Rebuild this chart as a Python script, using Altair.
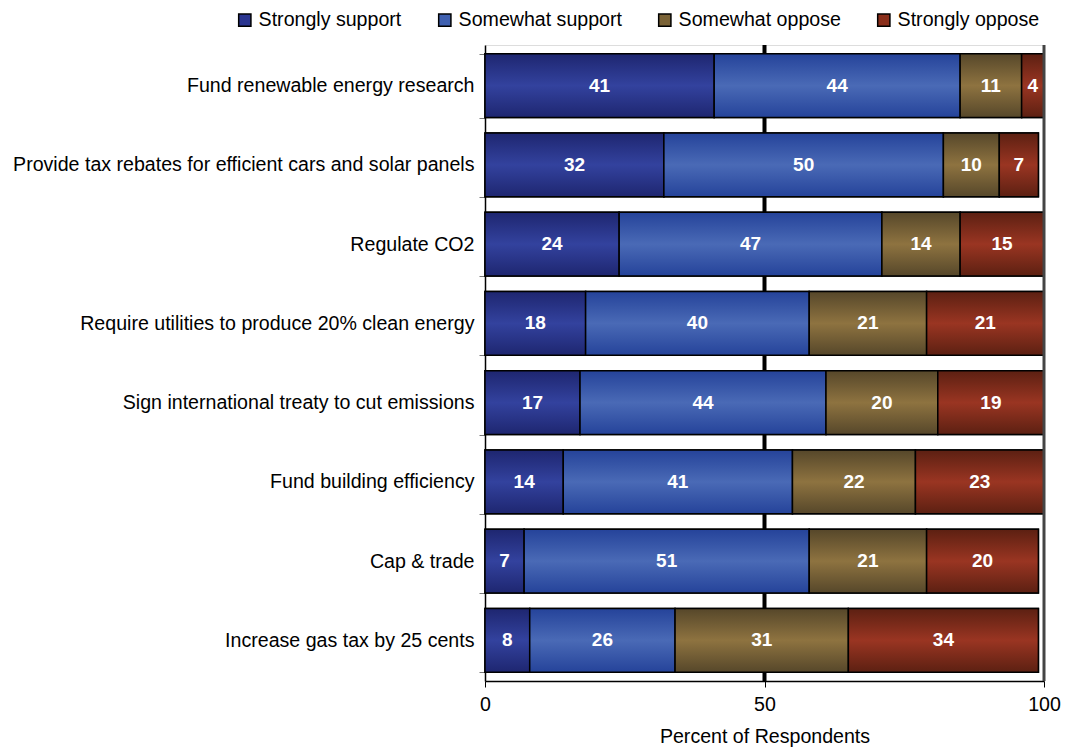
import altair as alt
import pandas as pd

policies = [
    "Fund renewable energy research",
    "Provide tax rebates for efficient cars and solar panels",
    "Regulate CO2",
    "Require utilities to produce 20% clean energy",
    "Sign international treaty to cut emissions",
    "Fund building efficiency",
    "Cap & trade",
    "Increase gas tax by 25 cents",
]
responses = ["Strongly support", "Somewhat support", "Somewhat oppose", "Strongly oppose"]
strongly_support = [41, 32, 24, 18, 17, 14, 7, 8]
somewhat_support = [44, 50, 47, 40, 44, 41, 51, 26]
somewhat_oppose = [11, 10, 14, 21, 20, 22, 21, 31]
strongly_oppose = [4, 7, 15, 21, 19, 23, 20, 34]
x_ticks = [0, 50, 100]
grid_at = [50]
border_at = [100]

flat_colors = ["#2a3590", "#3f60b0", "#7a6236", "#8a2e1a"]
gradients = [
    ("#1e2670", "#33429e"),
    ("#25439a", "#4a6ab6"),
    ("#56472a", "#8e7340"),
    ("#5c2012", "#9a3522"),
]

series = [strongly_support, somewhat_support, somewhat_oppose, strongly_oppose]
rows = []
for i, p in enumerate(policies):
    start = 0
    for j, r in enumerate(responses):
        v = series[j][i]
        rows.append({"policy": p, "response": r, "value": v,
                     "start": start, "end": start + v, "mid": start + v / 2, "order": j})
        start += v
df = pd.DataFrame(rows)

FONT = "Liberation Sans"
FS = 19.6

y_enc = alt.Y("policy:N", sort=policies,
              scale=alt.Scale(paddingInner=0.195, paddingOuter=0.11),
              axis=alt.Axis(title=None, labelFontSize=FS, labelColor="black", labelFont=FONT,
                            labelPadding=5, tickBand="extent", tickSize=6, tickColor="#777",
                            domainColor="black", domainWidth=1.5, labelLimit=700))
x_scale = alt.Scale(domain=[0, 100], nice=False)
x_enc = alt.X("start:Q", scale=x_scale,
              axis=alt.Axis(values=x_ticks, title="Percent of Respondents", titleFontSize=FS,
                            titleFontWeight="normal", titleFont=FONT, titleColor="black",
                            titlePadding=14, labelFontSize=FS, labelFont=FONT, labelColor="black",
                            labelPadding=8, labelFlush=False, tickSize=6, tickColor="black",
                            domainColor="black", domainWidth=1.5, grid=False))

base = alt.Chart(df)

grid = alt.Chart(pd.DataFrame({"g": grid_at})).mark_rule(color="black", strokeWidth=4).encode(
    x=alt.X("g:Q", scale=x_scale))
border = alt.Chart(pd.DataFrame({"g": border_at})).mark_rule(color="#444", strokeWidth=3).encode(
    x=alt.X("g:Q", scale=x_scale))

legend_layer = base.mark_bar(stroke="black", strokeWidth=1.5).encode(
    y=y_enc, x=x_enc, x2="end:Q",
    fill=alt.Fill("response:N", sort=responses,
                  scale=alt.Scale(domain=responses, range=flat_colors),
                  legend=alt.Legend(title=None, orient="none", direction="horizontal",
                                    legendX=-250, legendY=-35, labelFontSize=FS, labelFont=FONT,
                                    labelColor="black", symbolType="square", symbolSize=150,
                                    symbolStrokeColor="black", symbolStrokeWidth=1.5,
                                    columnPadding=33, labelOffset=4, labelLimit=300)),
)

grad_layers = []
for j, r in enumerate(responses):
    edge, mid = gradients[j]
    g = alt.LinearGradient(gradient="linear", x1=0, x2=0, y1=0, y2=1, stops=[
        alt.GradientStop(color=edge, offset=0),
        alt.GradientStop(color=mid, offset=0.5),
        alt.GradientStop(color=edge, offset=1),
    ])
    grad_layers.append(
        base.transform_filter(alt.datum.response == r)
        .mark_bar(fill=g, stroke="black", strokeWidth=1.5)
        .encode(y=alt.Y("policy:N", sort=policies), x=alt.X("start:Q", scale=x_scale), x2="end:Q")
    )

labels = base.mark_text(color="white", fontWeight="bold", fontSize=19, font=FONT).encode(
    y=alt.Y("policy:N", sort=policies), x=alt.X("mid:Q", scale=x_scale), text="value:Q")

chart = alt.layer(grid, legend_layer, *grad_layers, labels, border).properties(
    width=559, height=636,
    autosize=alt.AutoSizeParams(type="none"),
    padding={"left": 477, "top": 37, "right": 18, "bottom": 72},
).configure_view(stroke="#999", strokeWidth=1.5).configure(background="white")

chart.save("out.html", embed_options={"renderer": "svg", "actions": False})
